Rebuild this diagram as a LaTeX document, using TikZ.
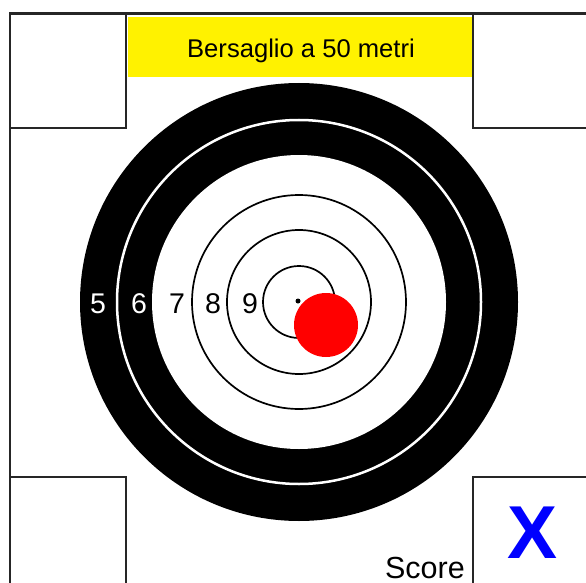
\documentclass[tikz,border=0pt]{standalone}
\usepackage{fontspec}
\setmainfont{Liberation Sans}
\begin{document}
\begin{tikzpicture}[x=1pt,y=-1pt,
  frame/.style={draw=black!85, line width=2.2pt},
  ringline/.style={draw=black, line width=1.7pt},
  numstyle/.style={font=\fontsize{28.5}{30}\selectfont, inner sep=0pt, anchor=base},
  numw/.style={numstyle, text=white},
  numb/.style={numstyle, text=black}]
\useasboundingbox (0,0) rectangle (586,583);
\clip (0,0) rectangle (586,583);
\fill[white] (0,0) rectangle (586,583);
% frame and corner boxes
\draw[frame] (10,600) -- (10,13.5) -- (600,13.5);
\draw[frame] (10,128) -- (126,128) -- (126,13.5);
\draw[frame] (600,128) -- (473,128) -- (473,13.5);
\draw[frame] (10,477) -- (126,477) -- (126,600);
\draw[frame] (600,477) -- (473,477) -- (473,600);
% yellow banner
\fill[yellow] (128,17) rectangle (472,77);
\node[font=\fontsize{25.6}{30}\selectfont, inner sep=0pt, anchor=base] (title) at (301,58) {Bersaglio a 50 metri};
% target
\coordinate (c) at (299,302);
\fill[black] (c) circle[radius=219pt];
\draw[white, line width=2.5pt] (c) circle[radius=182pt];
\fill[white] (c) circle[radius=147pt];
\draw[ringline] (c) circle[radius=107pt];
\draw[ringline] (c) circle[radius=72pt];
\draw[ringline] (c) circle[radius=36pt];
\fill[black] (298,301) circle[radius=2.5pt];
\fill[red] (326,325) circle[radius=32pt];
% ring numbers
\node[numw] (n5) at (98,313) {5};
\node[numw] (n6) at (139,313) {6};
\node[numb] (n7) at (177,313) {7};
\node[numb] (n8) at (213,313) {8};
\node[numb] (n9) at (250,313) {9};
% score
\node[font=\fontsize{30.5}{32}\selectfont, inner sep=0pt, anchor=base east] (score) at (465,578) {Score};
\node[font=\fontsize{75}{80}\selectfont\bfseries, text=blue, inner sep=0pt, anchor=base] (x) at (533,558) {X};
\end{tikzpicture}
\end{document}
